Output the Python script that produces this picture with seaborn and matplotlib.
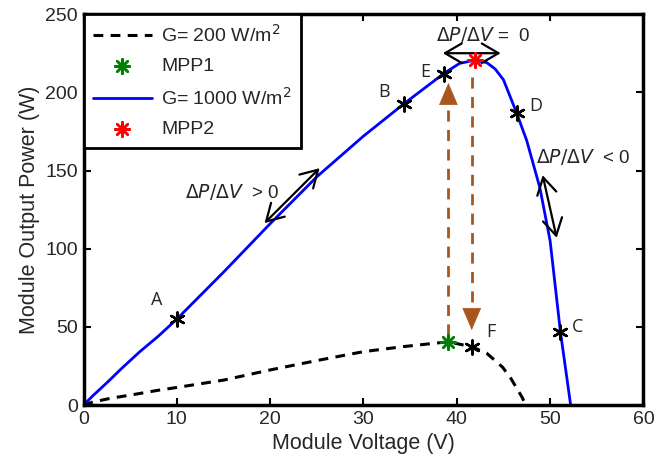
import matplotlib
matplotlib.use("Agg")
import matplotlib.pyplot as plt
import seaborn as sns
import pandas as pd

# ---- data ----
v_200 = [0, 1, 3, 5, 8, 10, 15, 20, 25, 30, 34.4, 39.1, 41.6, 43.2, 44.9, 45.8, 46.4, 47.0, 47.4]
p_200 = [0, 2, 4.5, 6.4, 9.5, 11.3, 16, 22.5, 28.5, 34.2, 37.5, 40.5, 37.3, 33.2, 24.3, 17, 11, 5, 0]

v_1000 = [0, 1, 2, 2.8, 4, 6, 8, 10, 15, 20, 25, 30, 34.3, 38.6, 40.3, 41.9, 43.2,
          44.1, 45.0, 46.4, 47.5, 48.9, 50.0, 51.1, 52.2]
p_1000 = [0, 6, 11.5, 16, 23, 34, 44, 55, 85, 116, 146, 172, 192.5, 212, 218.5, 220.5, 219,
          215, 208, 187, 169, 139, 105, 47, 0]

mpp1 = (39.1, 40.5)
mpp2 = (41.9, 220.5)

pt_names = ["A", "B", "E", "D", "C", "F"]
pt_v = [10.0, 34.3, 38.6, 46.4, 51.1, 41.6]
pt_p = [55.0, 192.5, 212.0, 187.0, 47.0, 37.3]
lbl_v = [7.8, 32.2, 36.6, 48.5, 52.9, 43.6]
lbl_p = [67, 200, 213, 191, 50, 46.7]

# brown transition arrows: (x, start, end)
up_arrow = (39.1, 45, 206)
down_arrow = (41.6, 210, 48)

xticks = [0, 10, 20, 30, 40, 50, 60]
yticks = [0, 50, 100, 150, 200, 250]

sns.set_theme(style="white")
plt.rcParams['font.family'] = ['Liberation Sans', 'DejaVu Sans']

fig = plt.figure(figsize=(6.67, 4.70), dpi=100)
ax = fig.add_axes([0.1252, 0.138, 0.8395, 0.832])

df200 = pd.DataFrame({"V": v_200, "P": p_200})
df1000 = pd.DataFrame({"V": v_1000, "P": p_1000})

brown = '#A8561B'

# brown dashed arrows: dashed shaft + solid triangular head
for (x, y0, y1) in (up_arrow, down_arrow):
    d = 1 if y1 > y0 else -1
    ax.plot([x, x], [y0, y1 - d * 8], color=brown, lw=2, dashes=(4, 3), zorder=3)
    ax.annotate("", xy=(x, y1), xytext=(x, y1 - d * 11),
                arrowprops=dict(arrowstyle="-|>,head_length=0.75,head_width=0.32",
                                color=brown, lw=0.5, mutation_scale=20,
                                shrinkA=0, shrinkB=0), zorder=3)

sns.lineplot(data=df200, x="V", y="P", ax=ax, color='black', lw=2.2, sort=False,
             label="G= 200 W/m$^2$", estimator=None)
ax.lines[-1].set_dashes((3.2, 2.4))
sns.scatterplot(x=[mpp1[0]], y=[mpp1[1]], ax=ax, color='green', marker=(8, 2, 0),
                s=110, linewidth=1.8, edgecolor='green', label="MPP1", zorder=6)
sns.lineplot(data=df1000, x="V", y="P", ax=ax, color='#0000FF', lw=2, sort=False,
             label="G= 1000 W/m$^2$", estimator=None)
sns.scatterplot(x=[mpp2[0]], y=[mpp2[1]], ax=ax, color='red', marker=(8, 2, 0),
                s=110, linewidth=1.8, edgecolor='red', label="MPP2", zorder=6)

# black labeled points
ax.scatter(pt_v, pt_p, marker=(6, 2, 0), s=100, color='black', linewidth=1.8, zorder=7)
for n, x, y in zip(pt_names, lbl_v, lbl_p):
    ax.text(x, y, n, fontsize=13, ha='center', va='center', family=['Open Sans', 'DejaVu Sans'])

# black double arrows
arr = dict(arrowstyle="<->,head_length=0.6,head_width=0.35", color='black', lw=1.6,
           mutation_scale=20, shrinkA=0, shrinkB=0)
ax.annotate("", xy=(19.4, 116.4), xytext=(25.3, 151.5), arrowprops=arr)
ax.annotate("", xy=(38.5, 225), xytext=(44.7, 225), arrowprops=arr)
ax.annotate("", xy=(49.2, 147), xytext=(50.7, 107), arrowprops=arr)

afont = dict(fontsize=13.5, ha='center', va='center')
ax.text(15.9, 136, r"$\Delta P/\Delta V$  > 0", **afont)
ax.text(42.8, 236.5, r"$\Delta P/\Delta V$ =  0", **afont)
ax.text(53.5, 158.5, r"$\Delta P/\Delta V$  < 0", **afont)

ax.set_xlim(0, 60)
ax.set_ylim(0, 250)
ax.set_xticks(xticks)
ax.set_yticks(yticks)
ax.set_xlabel("Module Voltage (V)", fontsize=15.5, labelpad=4)
ax.set_ylabel("Module Output Power (W)", fontsize=15.5, labelpad=4)
ax.tick_params(direction='in', length=5, width=1.5, labelsize=14, top=True, right=True,
               bottom=True, left=True, pad=4, color='black')
for s in ax.spines.values():
    s.set_linewidth(2.5)
    s.set_color('black')

leg = ax.legend(loc='upper left', fontsize=14, frameon=True, fancybox=False,
                borderaxespad=0, handlelength=3.0, labelspacing=0.6, borderpad=0.5,
                handletextpad=0.5)
leg.get_frame().set_edgecolor('black')
leg.get_frame().set_linewidth(2)
leg.get_frame().set_alpha(1)

fig.savefig("out.png", dpi=100)
